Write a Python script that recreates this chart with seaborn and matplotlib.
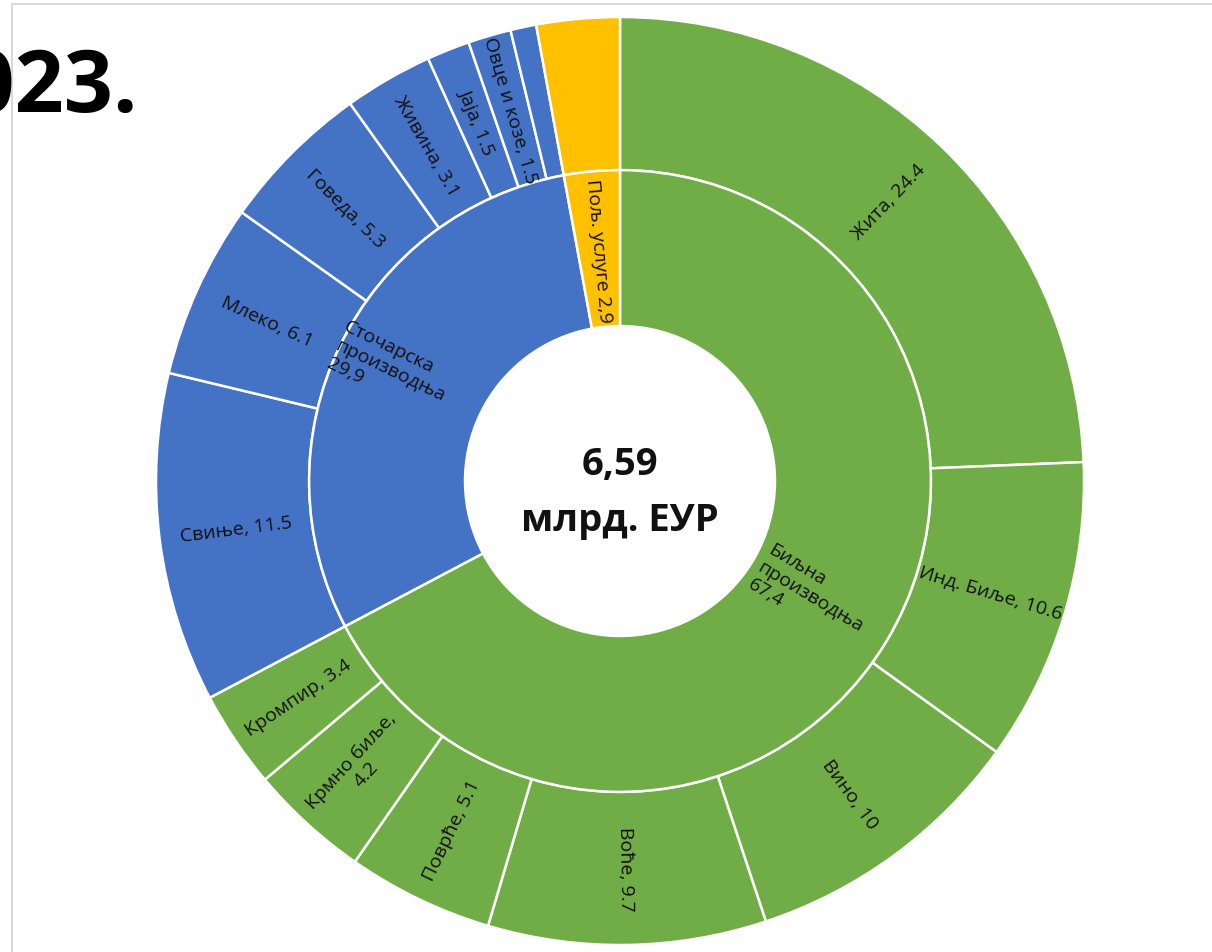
import numpy as np
import matplotlib.pyplot as plt
import seaborn as sns
from matplotlib.lines import Line2D

sns.set_theme(style="white")
plt.rcParams["font.family"] = ["Open Sans", "DejaVu Sans"]

# inner ring: sectors of agricultural output (% of 6,59 bn EUR)
group_labels = ["Биљна\nпроизводња\n67,4", "Сточарска\nпроизводња\n29,9", "Пољ. услуге 2,9"]
group_values = [67.4, 29.9, 2.9]
group_colors = ["#70AD47", "#4472C4", "#FFC000"]

# outer ring: products inside each sector
sub_labels = ["Жита, 24.4", "Инд. Биље, 10.6", "Вино, 10", "Воће, 9.7", "Поврће, 5.1",
              "Крмно биље,\n4.2", "Кромпир, 3.4",
              "Свиње, 11.5", "Млеко, 6.1", "Говеда, 5.3", "Живина, 3.1", "Јаја, 1.5",
              "Овце и козе, 1.5", "",
              ""]
sub_values = [24.4, 10.6, 10.0, 9.7, 5.1, 4.2, 3.4,
              11.5, 6.1, 5.3, 3.1, 1.5, 1.5, 0.9,
              2.9]
sub_group = [0] * 7 + [1] * 7 + [2]

total_label = "6,59\nмлрд. ЕУР"
title = "2023."

# geometry in pixels
W, H = 1212, 953
cx, cy = 620, H - 482
R = 464
R_mid = R * 0.67
R_hole = R * 0.334
ink = "#111111"
fs = 14

fig = plt.figure(figsize=(W / 100, H / 100), dpi=100)
ax = fig.add_axes([0, 0, 1, 1])

wp = dict(edgecolor="white", linewidth=1.8)
ax.pie(sub_values, radius=R, center=(cx, cy), startangle=90, counterclock=False,
       colors=[group_colors[g] for g in sub_group], wedgeprops=dict(width=R - R_mid, **wp))
ax.pie(group_values, radius=R_mid, center=(cx, cy), startangle=90, counterclock=False,
       colors=group_colors, wedgeprops=dict(width=R_mid - R_hole, **wp))
ax.set_xlim(0, W)
ax.set_ylim(0, H)
ax.set_aspect("equal")
ax.axis("off")


def mid_angles(values):
    vals = np.asarray(values, dtype=float)
    before = np.cumsum(vals) - vals
    return 90 - (before + vals / 2) / vals.sum() * 360


def radial_rot(a):
    a = (a + 180) % 360 - 180
    if a > 90 or a < -90:
        a = a - 180 if a > 0 else a + 180
    return a


def put(label, a, r, rot, size, align="center"):
    t = np.deg2rad(a)
    ax.text(cx + r * np.cos(t), cy + r * np.sin(t), label, rotation=rot,
            rotation_mode="anchor", ha="center", va="center", multialignment=align,
            fontsize=size, color=ink, linespacing=1.15)


# outer labels, all radial
for lab, a in zip(sub_labels, mid_angles(sub_values)):
    if lab:
        put(lab, a, R * 0.835, radial_rot(a), fs)

# inner labels
inner_r = {0: 0.48, 1: 0.55, 2: 0.5}
for i, (lab, a) in enumerate(zip(group_labels, mid_angles(group_values))):
    put(lab, a, R * inner_r[i], radial_rot(a), fs, align="left")

ax.text(cx, H - 493, total_label, ha="center", va="center", fontsize=27.5,
        fontweight="bold", color=ink, linespacing=1.6)

fig.text(138 / W, 1 - 112 / H, title, ha="right", va="baseline", fontsize=62,
         fontweight="bold", color="black")

# slide frame
fig.add_artist(Line2D([12 / W, 1], [1 - 5 / H, 1 - 5 / H], transform=fig.transFigure,
                      color="#d9d9d9", lw=1.5))
fig.add_artist(Line2D([12 / W, 12 / W], [1 - 5 / H, 0], transform=fig.transFigure,
                      color="#d9d9d9", lw=1.5))

fig.savefig("out.png", dpi=100, facecolor="white")
